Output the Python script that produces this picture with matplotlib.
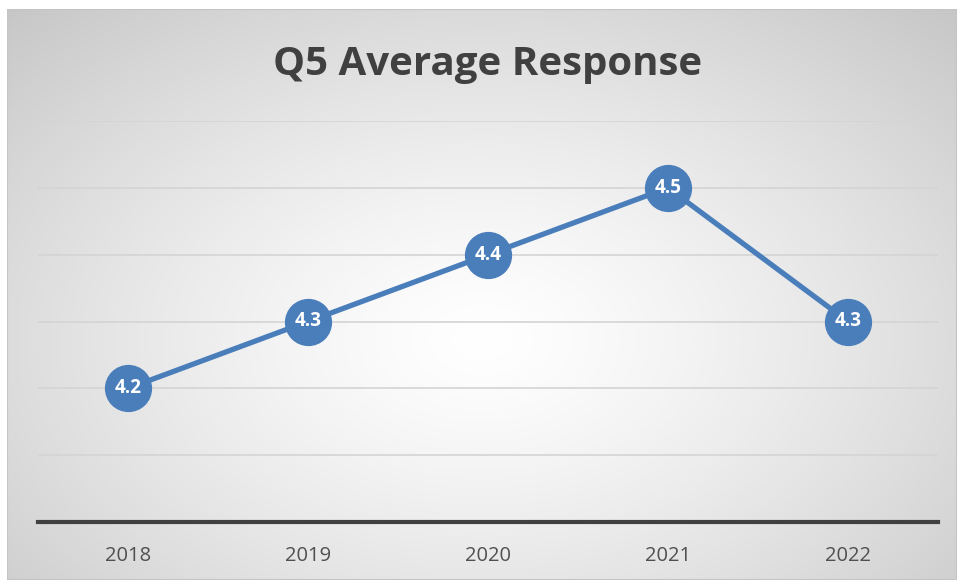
import numpy as np
import matplotlib
matplotlib.use("Agg")
import matplotlib.pyplot as plt
from matplotlib.patches import Rectangle

years = ["2018", "2019", "2020", "2021", "2022"]
values = [4.2, 4.3, 4.4, 4.5, 4.3]
title = "Q5 Average Response"

W, H = 957, 583
fig = plt.figure(figsize=(W / 100, H / 100), dpi=100)
fig.patch.set_facecolor("white")

# background frame with radial gradient
fx0, fy0, fx1, fy1 = 7, 9, 957, 580
bg = fig.add_axes([fx0 / W, 1 - fy1 / H, (fx1 - fx0) / W, (fy1 - fy0) / H])
bg.set_axis_off()
nx, ny = 400, 250
xx, yy = np.meshgrid(np.linspace(0, 1, nx), np.linspace(0, 1, ny))
cx, cy = 0.50, 0.58
r = np.sqrt(((xx - cx) / 0.72) ** 2 + ((yy - cy) / 0.80) ** 2)
r = np.clip(r, 0, 1)
lo, hi = 1.0, 0.78
g = lo - (lo - hi) * r ** 1.3
g = np.clip(g, 0, 1)
img = np.dstack([g, g, g])
bg.imshow(img, extent=[0, 1, 0, 1], aspect="auto", origin="upper", zorder=0)
bg.set_xlim(0, 1)
bg.set_ylim(0, 1)
bg.add_patch(Rectangle((0, 0), 1, 1, transform=bg.transAxes, fill=False,
                       edgecolor="#c4c4c4", linewidth=1.5, zorder=1))

# plot axes
ax_l, ax_r, ax_t, ax_b = 38, 938, 121, 522
ax = fig.add_axes([ax_l / W, 1 - ax_b / H, (ax_r - ax_l) / W, (ax_b - ax_t) / H])
ax.patch.set_alpha(0)
x = np.arange(len(years))
ax.set_xlim(-0.5, len(years) - 0.5)
ax.set_ylim(4.0, 4.6)
ax.set_yticks([4.1, 4.2, 4.3, 4.4, 4.5, 4.6])
ax.yaxis.grid(True, color="#d4d4d4", linewidth=1.2)
ax.set_axisbelow(True)
for s in ["left", "right", "top"]:
    ax.spines[s].set_visible(False)
ax.spines["bottom"].set_color("#404040")
ax.spines["bottom"].set_linewidth(3)
ax.tick_params(axis="y", left=False, labelleft=False)
ax.tick_params(axis="x", bottom=False, pad=14)
ax.set_xticks(x)
ax.set_xticklabels(years, fontsize=14.5, color="#505050", family="Open Sans")

color = "#4a7ebb"
ax.plot(x, values, color=color, linewidth=3.8, marker="o", markersize=33,
        markerfacecolor=color, markeredgecolor=color, zorder=3, clip_on=False)
for xi, v in zip(x, values):
    ax.text(xi, v, f"{v:.1f}", ha="center", va="center", color="white",
            fontsize=13.5, fontweight="bold", family="Open Sans", zorder=4)

fig.text(488 / W, 1 - 64 / H, title, ha="center", va="center", fontsize=29,
         fontweight="bold", color="#404040", family="Open Sans")

fig.savefig("out.png", dpi=100)
